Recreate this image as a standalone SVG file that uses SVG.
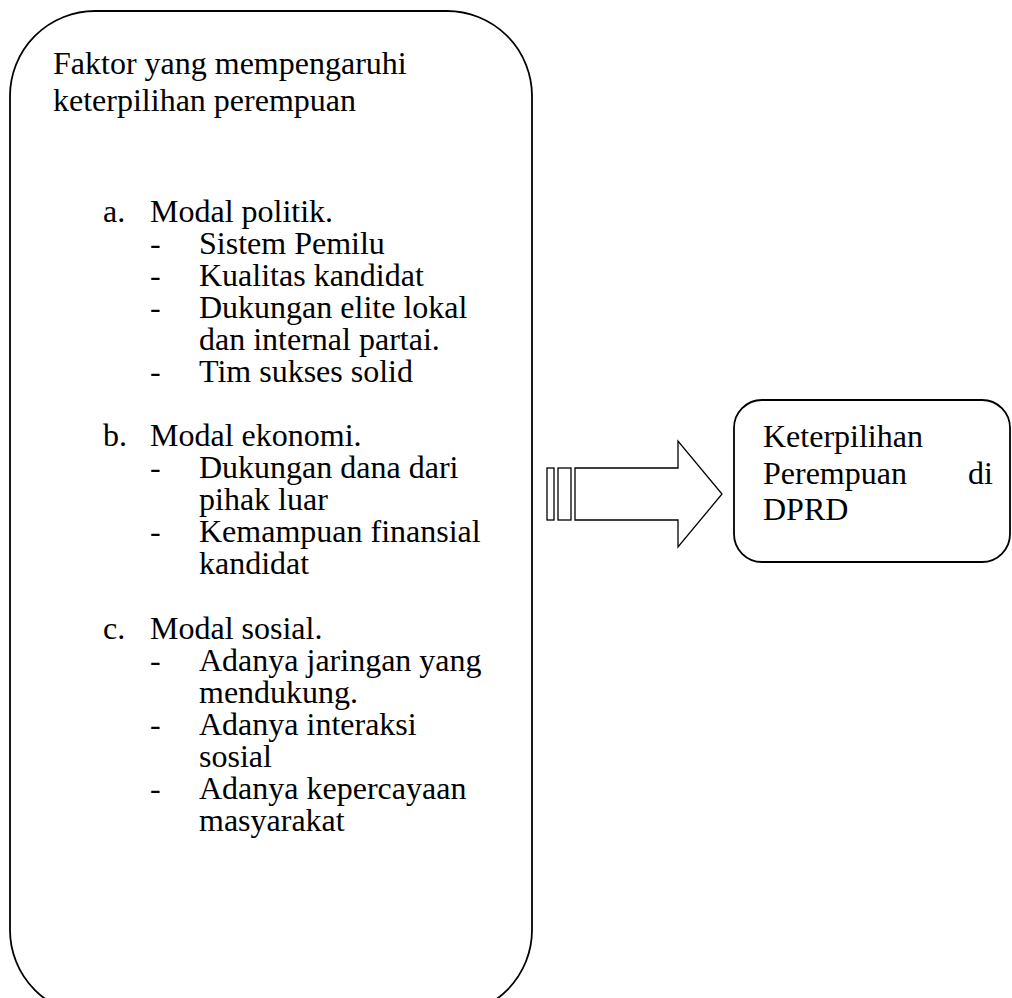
<svg xmlns="http://www.w3.org/2000/svg" width="1012" height="998" viewBox="0 0 1012 998" font-family="'Liberation Serif', 'Times New Roman', serif">
<style>
.box{fill:#fff;stroke:#000;stroke-width:1.8}
.arr{fill:#fff;stroke:#000;stroke-width:1.3}
.t{font-size:32px}
</style>
<rect width="1012" height="998" fill="#fff"/>
<g id="faktor">
<rect class="box" x="10" y="11" width="522" height="1004" rx="85" ry="85"/>
<g class="t">
<text x="53" y="74">Faktor yang mempengaruhi</text>
<text x="53" y="111">keterpilihan perempuan</text>
<text x="103" y="222">a.</text><text x="150" y="222">Modal politik.</text>
<text x="150" y="254">-</text><text x="199" y="254">Sistem Pemilu</text>
<text x="150" y="286">-</text><text x="199" y="286">Kualitas kandidat</text>
<text x="150" y="318">-</text><text x="199" y="318">Dukungan elite lokal</text>
<text x="199" y="350">dan internal partai.</text>
<text x="150" y="382">-</text><text x="199" y="382">Tim sukses solid</text>
<text x="103" y="446">b.</text><text x="150" y="446">Modal ekonomi.</text>
<text x="150" y="478">-</text><text x="199" y="478">Dukungan dana dari</text>
<text x="199" y="510">pihak luar</text>
<text x="150" y="542">-</text><text x="199" y="542">Kemampuan finansial</text>
<text x="199" y="574">kandidat</text>
<text x="103" y="639">c.</text><text x="150" y="639">Modal sosial.</text>
<text x="150" y="671">-</text><text x="199" y="671">Adanya jaringan yang</text>
<text x="199" y="703">mendukung.</text>
<text x="150" y="735">-</text><text x="199" y="735">Adanya interaksi</text>
<text x="199" y="767">sosial</text>
<text x="150" y="799">-</text><text x="199" y="799">Adanya kepercayaan</text>
<text x="199" y="831">masyarakat</text>
</g>
</g>
<g id="connectors">
<rect class="arr" x="547" y="468" width="7" height="52"/>
<rect class="arr" x="558" y="468" width="13" height="52"/>
<polygon class="arr" points="575,468 678,468 678,441 722,494 678,547 678,520 575,520"/>
</g>
<g id="keterpilihan">
<rect class="box" x="734" y="400" width="276" height="162" rx="28" ry="28"/>
<g class="t">
<text x="763" y="447">Keterpilihan</text>
<text x="763" y="484">Perempuan</text>
<text x="993" y="484" text-anchor="end">di</text>
<text x="763" y="520">DPRD</text>
</g>
</g>
</svg>
